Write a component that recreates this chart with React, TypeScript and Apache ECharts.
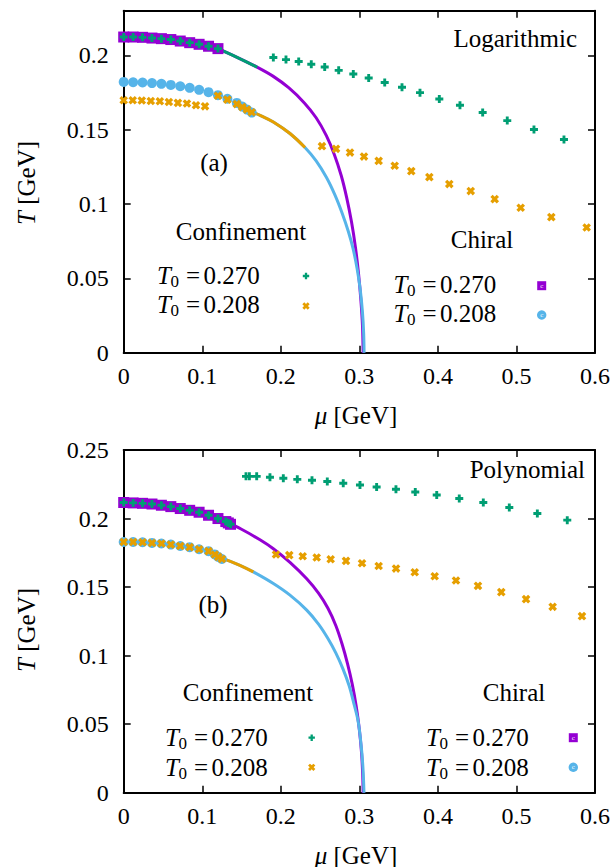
import React, { useEffect, useRef } from 'react';
import * as echarts from 'echarts';

// ---------- tick values ----------
const xTicks = [0, 0.1, 0.2, 0.3, 0.4, 0.5, 0.6];
const yTicksTop = [0, 0.05, 0.1, 0.15, 0.2];
const yMaxTop = 0.23;
const yTicksBottom = [0, 0.05, 0.1, 0.15, 0.2, 0.25];
const legendT0 = ['0.270', '0.208'];

// ---------- (a) Logarithmic ----------
const logChiral270Pts = [[0, 0.2123], [0.012, 0.2123], [0.024, 0.2121], [0.036, 0.2116], [0.048, 0.2112], [0.06, 0.2106], [0.072, 0.2096], [0.084, 0.2085], [0.096, 0.2074], [0.108, 0.2061], [0.12, 0.2045]];
const logConf270OnCurve = [[0, 0.2123], [0.012, 0.2123], [0.024, 0.2121], [0.036, 0.2116], [0.048, 0.2112], [0.06, 0.2106], [0.072, 0.2096], [0.084, 0.2085], [0.096, 0.2074], [0.108, 0.2061], [0.12, 0.2045]];
const logChiral270Line = [[0.12, 0.2045], [0.145, 0.1985], [0.17, 0.192], [0.19, 0.186], [0.21, 0.1782], [0.23, 0.168], [0.245, 0.158], [0.258, 0.146], [0.268, 0.1335], [0.277, 0.119], [0.284, 0.104], [0.29, 0.088], [0.295, 0.071], [0.299, 0.053], [0.302, 0.035], [0.304, 0.018], [0.3048, 0]];
const logConf270Line = [[0.12, 0.2045], [0.145, 0.1985], [0.17, 0.192]];
const logConf270Pts = [[0.1905, 0.1985], [0.2066, 0.1971], [0.2228, 0.1958], [0.2388, 0.194], [0.2559, 0.1921], [0.2737, 0.1899], [0.2923, 0.1874], [0.3119, 0.1847], [0.3323, 0.1817], [0.3543, 0.1785], [0.3772, 0.1749], [0.4018, 0.1706], [0.4281, 0.1664], [0.457, 0.1615], [0.4883, 0.1561], [0.5223, 0.1501], [0.5605, 0.1434]];
const logChiral208Pts = [[0, 0.1821], [0.012, 0.1819], [0.024, 0.1817], [0.036, 0.1813], [0.048, 0.1808], [0.06, 0.1801], [0.072, 0.1792], [0.084, 0.1781], [0.096, 0.1768], [0.108, 0.1752], [0.12, 0.1732], [0.132, 0.1708], [0.144, 0.168], [0.151, 0.1655], [0.157, 0.1635], [0.163, 0.1615]];
const logConf208Low = [[0, 0.1698], [0.0115, 0.1698], [0.023, 0.1696], [0.0345, 0.1693], [0.046, 0.1691], [0.0575, 0.1686], [0.069, 0.168], [0.0805, 0.1676], [0.092, 0.1664], [0.1035, 0.1657]];
const logConf208OnCurve = [[0.12, 0.1728], [0.132, 0.1702], [0.144, 0.1672], [0.151, 0.1652], [0.157, 0.1635], [0.163, 0.1617]];
const logConf208Line = [[0.157, 0.1635], [0.175, 0.1593], [0.1905, 0.1552], [0.2117, 0.1474], [0.2308, 0.138]];
const logChiral208Line = [[0.157, 0.1635], [0.175, 0.1593], [0.1905, 0.1552], [0.2117, 0.1474], [0.2308, 0.138], [0.245, 0.129], [0.258, 0.118], [0.269, 0.106], [0.278, 0.094], [0.286, 0.0815], [0.292, 0.07], [0.297, 0.057], [0.301, 0.043], [0.304, 0.027], [0.3055, 0.013], [0.306, 0]];
const logConf208Pts = [[0.2524, 0.1389], [0.2703, 0.1371], [0.2881, 0.1346], [0.3059, 0.1319], [0.3246, 0.129], [0.345, 0.1257], [0.3661, 0.1221], [0.3891, 0.1181], [0.4145, 0.1134], [0.4418, 0.1087], [0.4723, 0.1033], [0.5054, 0.0975], [0.5444, 0.0912], [0.5894, 0.0842]];

// ---------- (b) Polynomial ----------
const polyChiral270Pts = [[0, 0.2117], [0.012, 0.2114], [0.024, 0.2111], [0.036, 0.2106], [0.048, 0.2097], [0.06, 0.2087], [0.072, 0.2073], [0.084, 0.206], [0.096, 0.2046], [0.108, 0.2024], [0.12, 0.2], [0.13, 0.1978], [0.1332, 0.1968], [0.136, 0.1958]];
const polyConf270OnCurve = [[0, 0.2117], [0.012, 0.2114], [0.024, 0.2111], [0.036, 0.2106], [0.048, 0.2097], [0.06, 0.2087], [0.072, 0.2073], [0.084, 0.206], [0.096, 0.2046], [0.108, 0.2024], [0.12, 0.2], [0.13, 0.1978], [0.1332, 0.1968], [0.136, 0.1958]];
const polyChiral270Line = [[0.1332, 0.1968], [0.15, 0.1922], [0.1735, 0.1845], [0.1905, 0.178], [0.2117, 0.168], [0.233, 0.156], [0.248, 0.1455], [0.26, 0.1345], [0.27, 0.122], [0.278, 0.1085], [0.285, 0.094], [0.291, 0.079], [0.296, 0.063], [0.3, 0.046], [0.3028, 0.029], [0.3042, 0.014], [0.3048, 0]];
const polyConf270Pts = [[0.1557, 0.2308], [0.16, 0.2308], [0.1693, 0.2308], [0.1862, 0.2301], [0.2032, 0.2294], [0.221, 0.2286], [0.2397, 0.2279], [0.2592, 0.227], [0.2795, 0.2257], [0.3008, 0.2245], [0.322, 0.223], [0.3466, 0.2214], [0.3712, 0.2194], [0.3985, 0.2172], [0.4272, 0.2146], [0.4578, 0.2117], [0.4909, 0.2081], [0.5266, 0.2037], [0.5647, 0.1988]];
const polyChiral208Pts = [[0, 0.1829], [0.012, 0.1829], [0.024, 0.1827], [0.036, 0.1822], [0.048, 0.1818], [0.06, 0.181], [0.072, 0.18], [0.084, 0.1791], [0.096, 0.1776], [0.108, 0.1762], [0.116, 0.1738], [0.1204, 0.172], [0.125, 0.1705]];
const polyConf208OnCurve = [[0, 0.1829], [0.012, 0.1829], [0.024, 0.1827], [0.036, 0.1822], [0.048, 0.1818], [0.06, 0.181], [0.072, 0.18], [0.084, 0.1791], [0.096, 0.1776], [0.108, 0.1762], [0.116, 0.1738], [0.1204, 0.172], [0.125, 0.1705]];
const polyConf208Line = [[0.1204, 0.172], [0.148, 0.1659], [0.165, 0.1611]];
const polyChiral208Line = [[0.1204, 0.172], [0.148, 0.1659], [0.165, 0.1611], [0.1905, 0.1526], [0.2117, 0.1441], [0.233, 0.1332], [0.248, 0.123], [0.26, 0.1125], [0.27, 0.102], [0.279, 0.0905], [0.287, 0.078], [0.2935, 0.064], [0.2985, 0.052], [0.3022, 0.035], [0.3046, 0.018], [0.3059, 0]];
const polyConf208Pts = [[0.1939, 0.1738], [0.2108, 0.1733], [0.2279, 0.1725], [0.2457, 0.1716], [0.2635, 0.1703], [0.283, 0.1691], [0.3034, 0.1674], [0.3246, 0.1654], [0.3467, 0.1635], [0.3705, 0.1608], [0.3959, 0.1579], [0.423, 0.1548], [0.451, 0.1509], [0.4807, 0.1463], [0.5122, 0.1412], [0.5461, 0.1356], [0.5834, 0.1288]];

// ---------- styling ----------
const FONT = '"Liberation Serif", "Times New Roman", serif';
const PURPLE = '#9400D3';
const GREEN = '#009E73';
const BLUE = '#56B4E9';
const ORANGE = '#E69F00';
const PLUS = 'path://M3.2,0H6.8V3.2H10V6.8H6.8V10H3.2V6.8H0V3.2H3.2Z';

const GRID_LEFT = 123.7;
const GRID_W = 471.3;
const TOP_GRID = { top: 10.7, h: 342 };
const BOT_GRID = { top: 450, h: 342.7 };

const fmt = (step: number) => (v: number) => {
  const k = v / step;
  if (Math.abs(k - Math.round(k)) > 1e-6) return '';
  return String(+v.toFixed(2));
};

function xAxisCfg(gridIndex: number, position: string, labels: boolean) {
  return {
    type: 'value', gridIndex, position,
    min: xTicks[0], max: xTicks[xTicks.length - 1], interval: xTicks[1] - xTicks[0],
    axisLine: { show: true, onZero: false, lineStyle: { color: '#000', width: 2 } },
    axisTick: { show: true, inside: true, length: 7, lineStyle: { color: '#000', width: 1.5 } },
    axisLabel: { show: labels, margin: 11, fontFamily: FONT, fontSize: 24, color: '#000', formatter: fmt(0.1) },
    splitLine: { show: false },
  };
}
function yAxisCfg(gridIndex: number, position: string, labels: boolean, ticks: number[], max: number) {
  return {
    type: 'value', gridIndex, position,
    min: ticks[0], max, interval: ticks[1] - ticks[0],
    axisLine: { show: true, onZero: false, lineStyle: { color: '#000', width: 2 } },
    axisTick: { show: true, inside: true, length: 7, lineStyle: { color: '#000', width: 1.5 } },
    axisLabel: { show: labels, margin: 15, fontFamily: FONT, fontSize: 24, color: '#000', formatter: fmt(0.05) },
    splitLine: { show: false },
  };
}

function lineS(data: number[][], color: string, xi: number, yi: number) {
  return { type: 'line', data, xAxisIndex: xi, yAxisIndex: yi, showSymbol: false, symbol: 'none', smooth: 0.35, lineStyle: { color, width: 3 }, clip: false, z: 3 };
}
function scat(data: number[][], color: string, symbol: string, size: number, xi: number, yi: number, rotate = 0) {
  return { type: 'scatter', data, xAxisIndex: xi, yAxisIndex: yi, symbol, symbolSize: size, symbolRotate: rotate, itemStyle: { color, opacity: 1 }, clip: false, z: 4 };
}

function txt(x: number, y: number, text: string, size = 25, align = 'left', italic = false) {
  return { type: 'text', x, y, style: { text, fontFamily: FONT, fontSize: size, fontStyle: italic ? 'italic' : 'normal', fill: '#000', align, verticalAlign: 'middle' } };
}
function t0Label(left: number, cy: number, value: string) {
  return {
    type: 'group', x: left, y: cy,
    children: [
      txt(0, 0, 'T', 25, 'left', true),
      txt(13.5, 6, '0', 17, 'left'),
      txt(36, 0, '=', 25, 'center'),
      txt(46.5, 0, value, 25, 'left'),
    ],
  };
}
function plusPts(r: number, w: number) {
  return [[-w, -r], [w, -r], [w, -w], [r, -w], [r, w], [w, w], [w, r], [-w, r], [-w, w], [-r, w], [-r, -w], [-w, -w]];
}
function mkPlus(cx: number, cy: number, color: string, r: number, rot = 0) {
  return { type: 'polygon', x: cx, y: cy, rotation: rot, shape: { points: plusPts(r, r * 0.36) }, style: { fill: color } };
}
function mkSquare(cx: number, cy: number) {
  return { type: 'group', children: [
    { type: 'rect', shape: { x: cx - 4.5, y: cy - 4.5, width: 9, height: 9 }, style: { fill: PURPLE } },
    { type: 'text', x: cx, y: cy, style: { text: 'c', fontSize: 7, fontFamily: FONT, fill: '#fff', align: 'center', verticalAlign: 'middle' } },
  ] };
}
function mkCircle(cx: number, cy: number) {
  return { type: 'group', children: [
    { type: 'circle', shape: { cx, cy, r: 4.7 }, style: { fill: BLUE } },
    { type: 'text', x: cx, y: cy, style: { text: 'c', fontSize: 7, fontFamily: FONT, fill: '#fff', align: 'center', verticalAlign: 'middle' } },
  ] };
}

export default function App() {
  const ref = useRef<HTMLDivElement>(null);
  useEffect(() => {
    if (!ref.current) return;
    const chart = echarts.init(ref.current, null, { renderer: 'svg' });
    const option: any = {
      animation: false,
      backgroundColor: '#fff',
      grid: [
        { left: GRID_LEFT, top: TOP_GRID.top, width: GRID_W, height: TOP_GRID.h, containLabel: false },
        { left: GRID_LEFT, top: BOT_GRID.top, width: GRID_W, height: BOT_GRID.h, containLabel: false },
      ],
      xAxis: [
        xAxisCfg(0, 'bottom', true), xAxisCfg(0, 'top', false),
        xAxisCfg(1, 'bottom', true), xAxisCfg(1, 'top', false),
      ],
      yAxis: [
        yAxisCfg(0, 'left', true, yTicksTop, yMaxTop), yAxisCfg(0, 'right', false, yTicksTop, yMaxTop),
        yAxisCfg(1, 'left', true, yTicksBottom, yTicksBottom[yTicksBottom.length - 1]), yAxisCfg(1, 'right', false, yTicksBottom, yTicksBottom[yTicksBottom.length - 1]),
      ],
      series: [
        // (a)
        lineS(logChiral270Line, PURPLE, 0, 0),
        lineS(logChiral208Line, BLUE, 0, 0),
        scat(logChiral270Pts, PURPLE, 'rect', 11, 0, 0),
        scat(logChiral208Pts, BLUE, 'circle', 10, 0, 0),
        lineS(logConf270Line, GREEN, 0, 0),
        lineS(logConf208Line, ORANGE, 0, 0),
        scat(logConf270OnCurve, GREEN, PLUS, 8, 0, 0),
        scat(logConf270Pts, GREEN, PLUS, 8, 0, 0),
        scat(logConf208Low, ORANGE, PLUS, 9, 0, 0, 45),
        scat(logConf208OnCurve, ORANGE, PLUS, 9, 0, 0, 45),
        scat(logConf208Pts, ORANGE, PLUS, 9, 0, 0, 45),
        // (b)
        lineS(polyChiral270Line, PURPLE, 2, 2),
        lineS(polyChiral208Line, BLUE, 2, 2),
        scat(polyChiral270Pts, PURPLE, 'rect', 11, 2, 2),
        scat(polyChiral208Pts, BLUE, 'circle', 10, 2, 2),
        lineS(polyConf208Line, ORANGE, 2, 2),
        scat(polyConf270OnCurve, GREEN, PLUS, 8, 2, 2),
        scat(polyConf270Pts, GREEN, PLUS, 8, 2, 2),
        scat(polyConf208OnCurve, ORANGE, PLUS, 9, 2, 2, 45),
        scat(polyConf208Pts, ORANGE, PLUS, 9, 2, 2, 45),
      ],
      graphic: [
        // axis titles
        { type: 'text', x: 26, y: 183, rotation: Math.PI / 2, style: { text: '{i|T} [GeV]', rich: { i: { fontStyle: 'italic', fontFamily: FONT, fontSize: 25 } }, fontFamily: FONT, fontSize: 25, fill: '#000', align: 'center', verticalAlign: 'middle' } },
        { type: 'text', x: 26, y: 630, rotation: Math.PI / 2, style: { text: '{i|T} [GeV]', rich: { i: { fontStyle: 'italic', fontFamily: FONT, fontSize: 25 } }, fontFamily: FONT, fontSize: 25, fill: '#000', align: 'center', verticalAlign: 'middle' } },
        { type: 'text', x: 356, y: 415, style: { text: '{i|μ} [GeV]', rich: { i: { fontStyle: 'italic', fontFamily: FONT, fontSize: 25 } }, fontFamily: FONT, fontSize: 25, fill: '#000', align: 'center', verticalAlign: 'middle' } },
        { type: 'text', x: 356, y: 855, style: { text: '{i|μ} [GeV]', rich: { i: { fontStyle: 'italic', fontFamily: FONT, fontSize: 25 } }, fontFamily: FONT, fontSize: 25, fill: '#000', align: 'center', verticalAlign: 'middle' } },
        // (a) annotations
        txt(577, 38, 'Logarithmic', 25, 'right'),
        txt(214, 162, '(a)', 25, 'center'),
        txt(241, 231, 'Confinement', 25, 'center'),
        txt(482, 239, 'Chiral', 25, 'center'),
        t0Label(157, 275, legendT0[0]),
        t0Label(157, 304, legendT0[1]),
        mkPlus(306, 276, GREEN, 3.2),
        mkPlus(306, 306, ORANGE, 3.8, Math.PI / 4),
        t0Label(393.5, 284, legendT0[0]),
        t0Label(393.5, 313.5, legendT0[1]),
        mkSquare(541.7, 285.7),
        mkCircle(541.7, 315),
        // (b) annotations
        txt(585, 469, 'Polynomial', 25, 'right'),
        txt(213, 604, '(b)', 25, 'center'),
        txt(248, 692, 'Confinement', 25, 'center'),
        txt(514, 692, 'Chiral', 25, 'center'),
        t0Label(165, 737.5, legendT0[0]),
        t0Label(165, 767, legendT0[1]),
        mkPlus(311.7, 737.7, GREEN, 3.2),
        mkPlus(311.7, 767.3, ORANGE, 3.8, Math.PI / 4),
        t0Label(426, 737.5, legendT0[0]),
        t0Label(426, 767, legendT0[1]),
        mkSquare(573.3, 737.7),
        mkCircle(573.3, 767.3),
      ],
    };
    chart.setOption(option);
    return () => chart.dispose();
  }, []);
  return <div ref={ref} style={{ position: 'absolute', left: 0, top: 0, width: 614, height: 867, background: '#fff' }} />;
}
